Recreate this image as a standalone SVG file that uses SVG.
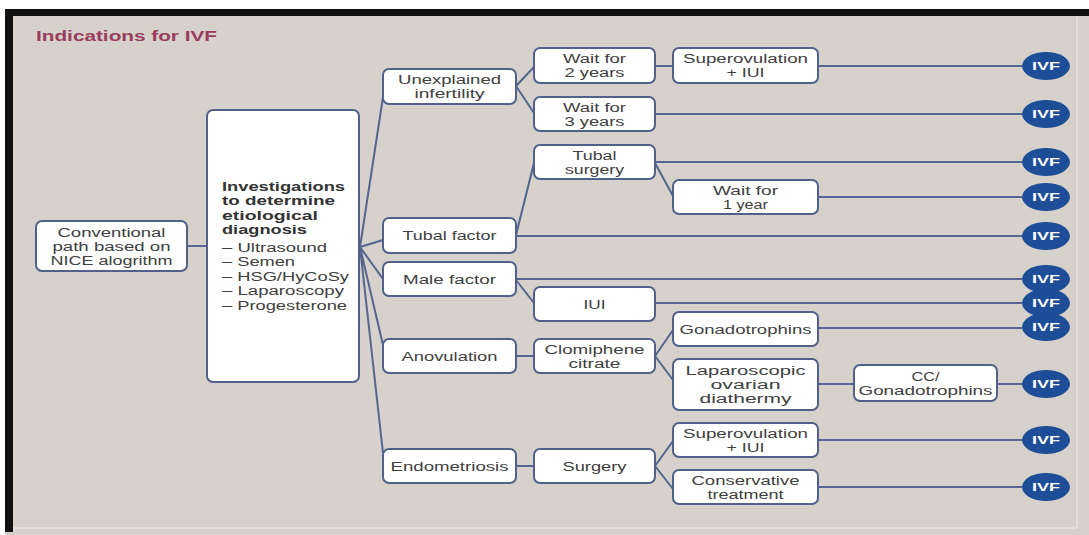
<svg xmlns="http://www.w3.org/2000/svg" width="1089" height="535" viewBox="0 0 1089 535">
  <style>
    .t { font-family: "Liberation Sans", Arial, sans-serif; font-size: 12px; fill: #404040; text-anchor: middle; }
    .l { font-family: "Liberation Sans", Arial, sans-serif; font-size: 12px; fill: #404040; }
    .bold { font-weight: bold; fill: #333333; }
    .b { fill: #ffffff; stroke: #52608c; stroke-width: 2; }
    .c { fill: none; stroke: #55658f; stroke-width: 2; }
    .ivf { fill: #1f4e98; }
    .ivft { font-family: "Liberation Sans", Arial, sans-serif; font-size: 11px; font-weight: bold; fill: #ffffff; text-anchor: middle; }
    .title { font-family: "Liberation Sans", Arial, sans-serif; font-size: 14px; font-weight: bold; fill: #9a3c60; }
  </style>

  <!-- page and frame -->
  <rect x="0" y="0" width="1089" height="535" fill="#ffffff"/>
  <rect x="5" y="9" width="1084" height="526" fill="#d6d2cb"/>
  <rect x="5" y="9" width="1084" height="7" fill="#111111"/>
  <rect x="5" y="9" width="8" height="523" fill="#111111"/>
  <line x1="1077" y1="16" x2="1077" y2="528" stroke="#e2dfda" stroke-width="2"/>
  <line x1="13" y1="528" x2="1077" y2="528" stroke="#e2dfda" stroke-width="2"/>

  <text class="title" x="36" y="41" textLength="181" lengthAdjust="spacingAndGlyphs">Indications for IVF</text>

  <!-- connectors -->
  <g id="connectors">
    <path class="c" d="M187,246 L207,246"/>
    <path class="c" d="M360,247 L383,97 M360,247 L383,240 M360,247 L383,279 M360,247 L383,345 M360,247 L383,453"/>
    <path class="c" d="M516,86 L534,67 M516,86 L534,113"/>
    <path class="c" d="M655,66 L673,66"/>
    <path class="c" d="M818,66 L1022,66"/>
    <path class="c" d="M655,114 L1022,114"/>
    <path class="c" d="M516,235 L534,163"/>
    <path class="c" d="M655,162 L1022,162"/>
    <path class="c" d="M655,163 L673,196"/>
    <path class="c" d="M818,197 L1022,197"/>
    <path class="c" d="M516,236 L1022,236"/>
    <path class="c" d="M516,279 L1022,279"/>
    <path class="c" d="M516,280 L534,303"/>
    <path class="c" d="M655,303 L1022,303"/>
    <path class="c" d="M516,356 L534,356"/>
    <path class="c" d="M655,356 L673,330 M655,356 L673,380"/>
    <path class="c" d="M818,328 L1022,328"/>
    <path class="c" d="M818,384 L854,384"/>
    <path class="c" d="M997,384 L1022,384"/>
    <path class="c" d="M516,466 L534,466"/>
    <path class="c" d="M655,466 L673,441 M655,466 L673,489"/>
    <path class="c" d="M818,440 L1022,440"/>
    <path class="c" d="M818,487 L1022,487"/>
  </g>

  <!-- nodes -->
  <g id="conventional">
    <rect class="b" x="36" y="221" width="151" height="50" rx="6"/>
    <text class="t" x="111.5" y="236.5" textLength="108" lengthAdjust="spacingAndGlyphs">Conventional</text>
    <text class="t" x="111.5" y="250.5" textLength="118" lengthAdjust="spacingAndGlyphs">path based on</text>
    <text class="t" x="111.5" y="264.5" textLength="122" lengthAdjust="spacingAndGlyphs">NICE alogrithm</text>
  </g>

  <g id="investigations">
    <rect class="b" x="207" y="110" width="152" height="272" rx="6"/>
    <text class="l bold" x="222" y="190.5" textLength="123" lengthAdjust="spacingAndGlyphs">Investigations</text>
    <text class="l bold" x="222" y="205" textLength="113" lengthAdjust="spacingAndGlyphs">to determine</text>
    <text class="l bold" x="222" y="219.5" textLength="96" lengthAdjust="spacingAndGlyphs">etiological</text>
    <text class="l bold" x="222" y="234" textLength="85" lengthAdjust="spacingAndGlyphs">diagnosis</text>
    <text class="l" x="222" y="251.5" textLength="105" lengthAdjust="spacingAndGlyphs">– Ultrasound</text>
    <text class="l" x="222" y="266" textLength="73" lengthAdjust="spacingAndGlyphs">– Semen</text>
    <text class="l" x="222" y="280.5" textLength="127" lengthAdjust="spacingAndGlyphs">– HSG/HyCoSy</text>
    <text class="l" x="222" y="295" textLength="122" lengthAdjust="spacingAndGlyphs">– Laparoscopy</text>
    <text class="l" x="222" y="309.5" textLength="125" lengthAdjust="spacingAndGlyphs">– Progesterone</text>
  </g>

  <g id="unexplained">
    <rect class="b" x="383" y="69" width="133" height="35" rx="6"/>
    <text class="t" x="449.5" y="84" textLength="103" lengthAdjust="spacingAndGlyphs">Unexplained</text>
    <text class="t" x="449.5" y="98" textLength="70" lengthAdjust="spacingAndGlyphs">infertility</text>
  </g>
  <g id="tubal-factor">
    <rect class="b" x="383" y="218" width="133" height="35" rx="6"/>
    <text class="t" x="449.5" y="240" textLength="94" lengthAdjust="spacingAndGlyphs">Tubal factor</text>
  </g>
  <g id="male-factor">
    <rect class="b" x="383" y="262" width="133" height="34" rx="6"/>
    <text class="t" x="449.5" y="283.5" textLength="93" lengthAdjust="spacingAndGlyphs">Male factor</text>
  </g>
  <g id="anovulation">
    <rect class="b" x="383" y="339" width="133" height="34" rx="6"/>
    <text class="t" x="449.5" y="360.5" textLength="96" lengthAdjust="spacingAndGlyphs">Anovulation</text>
  </g>
  <g id="endometriosis">
    <rect class="b" x="383" y="449" width="133" height="34" rx="6"/>
    <text class="t" x="449.5" y="470.5" textLength="118" lengthAdjust="spacingAndGlyphs">Endometriosis</text>
  </g>

  <g id="wait-2">
    <rect class="b" x="534" y="48" width="121" height="35" rx="6"/>
    <text class="t" x="594.5" y="63" textLength="63" lengthAdjust="spacingAndGlyphs">Wait for</text>
    <text class="t" x="594.5" y="77" textLength="60" lengthAdjust="spacingAndGlyphs">2 years</text>
  </g>
  <g id="wait-3">
    <rect class="b" x="534" y="97" width="121" height="34" rx="6"/>
    <text class="t" x="594.5" y="111.5" textLength="63" lengthAdjust="spacingAndGlyphs">Wait for</text>
    <text class="t" x="594.5" y="125.5" textLength="60" lengthAdjust="spacingAndGlyphs">3 years</text>
  </g>
  <g id="tubal-surgery">
    <rect class="b" x="534" y="145" width="121" height="34" rx="6"/>
    <text class="t" x="594.5" y="159.5" textLength="44" lengthAdjust="spacingAndGlyphs">Tubal</text>
    <text class="t" x="594.5" y="173.5" textLength="59" lengthAdjust="spacingAndGlyphs">surgery</text>
  </g>
  <g id="iui">
    <rect class="b" x="534" y="287" width="121" height="34" rx="6"/>
    <text class="t" x="594.5" y="308.5" textLength="22" lengthAdjust="spacingAndGlyphs">IUI</text>
  </g>
  <g id="clomiphene">
    <rect class="b" x="534" y="339" width="121" height="34" rx="6"/>
    <text class="t" x="594.5" y="353.5" textLength="100" lengthAdjust="spacingAndGlyphs">Clomiphene</text>
    <text class="t" x="594.5" y="367.5" textLength="52" lengthAdjust="spacingAndGlyphs">citrate</text>
  </g>
  <g id="surgery">
    <rect class="b" x="534" y="449" width="121" height="34" rx="6"/>
    <text class="t" x="594.5" y="470.5" textLength="64" lengthAdjust="spacingAndGlyphs">Surgery</text>
  </g>

  <g id="superovulation-1">
    <rect class="b" x="673" y="48" width="145" height="35" rx="6"/>
    <text class="t" x="745.5" y="63" textLength="125" lengthAdjust="spacingAndGlyphs">Superovulation</text>
    <text class="t" x="745.5" y="77" textLength="38" lengthAdjust="spacingAndGlyphs">+ IUI</text>
  </g>
  <g id="wait-1">
    <rect class="b" x="673" y="180" width="145" height="34" rx="6"/>
    <text class="t" x="745.5" y="194.5" textLength="65" lengthAdjust="spacingAndGlyphs">Wait for</text>
    <text class="t" x="745.5" y="208.5" textLength="45" lengthAdjust="spacingAndGlyphs">1 year</text>
  </g>
  <g id="gonadotrophins">
    <rect class="b" x="673" y="312" width="145" height="34" rx="6"/>
    <text class="t" x="745.5" y="333.5" textLength="132" lengthAdjust="spacingAndGlyphs">Gonadotrophins</text>
  </g>
  <g id="lod">
    <rect class="b" x="673" y="359" width="145" height="51" rx="6"/>
    <text class="t" x="745.5" y="375" textLength="120" lengthAdjust="spacingAndGlyphs">Laparoscopic</text>
    <text class="t" x="745.5" y="389" textLength="70" lengthAdjust="spacingAndGlyphs">ovarian</text>
    <text class="t" x="745.5" y="403" textLength="92" lengthAdjust="spacingAndGlyphs">diathermy</text>
  </g>
  <g id="cc-gonadotrophins">
    <rect class="b" x="854" y="365" width="143" height="36" rx="6"/>
    <text class="t" x="925.5" y="380.5" textLength="28" lengthAdjust="spacingAndGlyphs">CC/</text>
    <text class="t" x="925.5" y="394.5" textLength="134" lengthAdjust="spacingAndGlyphs">Gonadotrophins</text>
  </g>
  <g id="superovulation-2">
    <rect class="b" x="673" y="423" width="145" height="34" rx="6"/>
    <text class="t" x="745.5" y="437.5" textLength="125" lengthAdjust="spacingAndGlyphs">Superovulation</text>
    <text class="t" x="745.5" y="451.5" textLength="38" lengthAdjust="spacingAndGlyphs">+ IUI</text>
  </g>
  <g id="conservative">
    <rect class="b" x="673" y="470" width="145" height="34" rx="6"/>
    <text class="t" x="745.5" y="484.5" textLength="108" lengthAdjust="spacingAndGlyphs">Conservative</text>
    <text class="t" x="745.5" y="498.5" textLength="76" lengthAdjust="spacingAndGlyphs">treatment</text>
  </g>

  <!-- IVF end points -->
  <g id="ivf-1"><ellipse class="ivf" cx="1046" cy="66" rx="24" ry="14"/><text class="ivft" x="1046" y="70" textLength="28" lengthAdjust="spacingAndGlyphs">IVF</text></g>
  <g id="ivf-2"><ellipse class="ivf" cx="1046" cy="114" rx="24" ry="14"/><text class="ivft" x="1046" y="118" textLength="28" lengthAdjust="spacingAndGlyphs">IVF</text></g>
  <g id="ivf-3"><ellipse class="ivf" cx="1046" cy="162" rx="24" ry="14"/><text class="ivft" x="1046" y="166" textLength="28" lengthAdjust="spacingAndGlyphs">IVF</text></g>
  <g id="ivf-4"><ellipse class="ivf" cx="1046" cy="197" rx="24" ry="14"/><text class="ivft" x="1046" y="201" textLength="28" lengthAdjust="spacingAndGlyphs">IVF</text></g>
  <g id="ivf-5"><ellipse class="ivf" cx="1046" cy="236" rx="24" ry="14"/><text class="ivft" x="1046" y="240" textLength="28" lengthAdjust="spacingAndGlyphs">IVF</text></g>
  <g id="ivf-6"><ellipse class="ivf" cx="1046" cy="279" rx="24" ry="14"/><text class="ivft" x="1046" y="283" textLength="28" lengthAdjust="spacingAndGlyphs">IVF</text></g>
  <g id="ivf-7"><ellipse class="ivf" cx="1046" cy="303" rx="24" ry="14"/><text class="ivft" x="1046" y="307" textLength="28" lengthAdjust="spacingAndGlyphs">IVF</text></g>
  <g id="ivf-8"><ellipse class="ivf" cx="1046" cy="327" rx="24" ry="14"/><text class="ivft" x="1046" y="331" textLength="28" lengthAdjust="spacingAndGlyphs">IVF</text></g>
  <g id="ivf-9"><ellipse class="ivf" cx="1046" cy="384" rx="24" ry="14"/><text class="ivft" x="1046" y="388" textLength="28" lengthAdjust="spacingAndGlyphs">IVF</text></g>
  <g id="ivf-10"><ellipse class="ivf" cx="1046" cy="440" rx="24" ry="14"/><text class="ivft" x="1046" y="444" textLength="28" lengthAdjust="spacingAndGlyphs">IVF</text></g>
  <g id="ivf-11"><ellipse class="ivf" cx="1046" cy="487" rx="24" ry="14"/><text class="ivft" x="1046" y="491" textLength="28" lengthAdjust="spacingAndGlyphs">IVF</text></g>
</svg>
